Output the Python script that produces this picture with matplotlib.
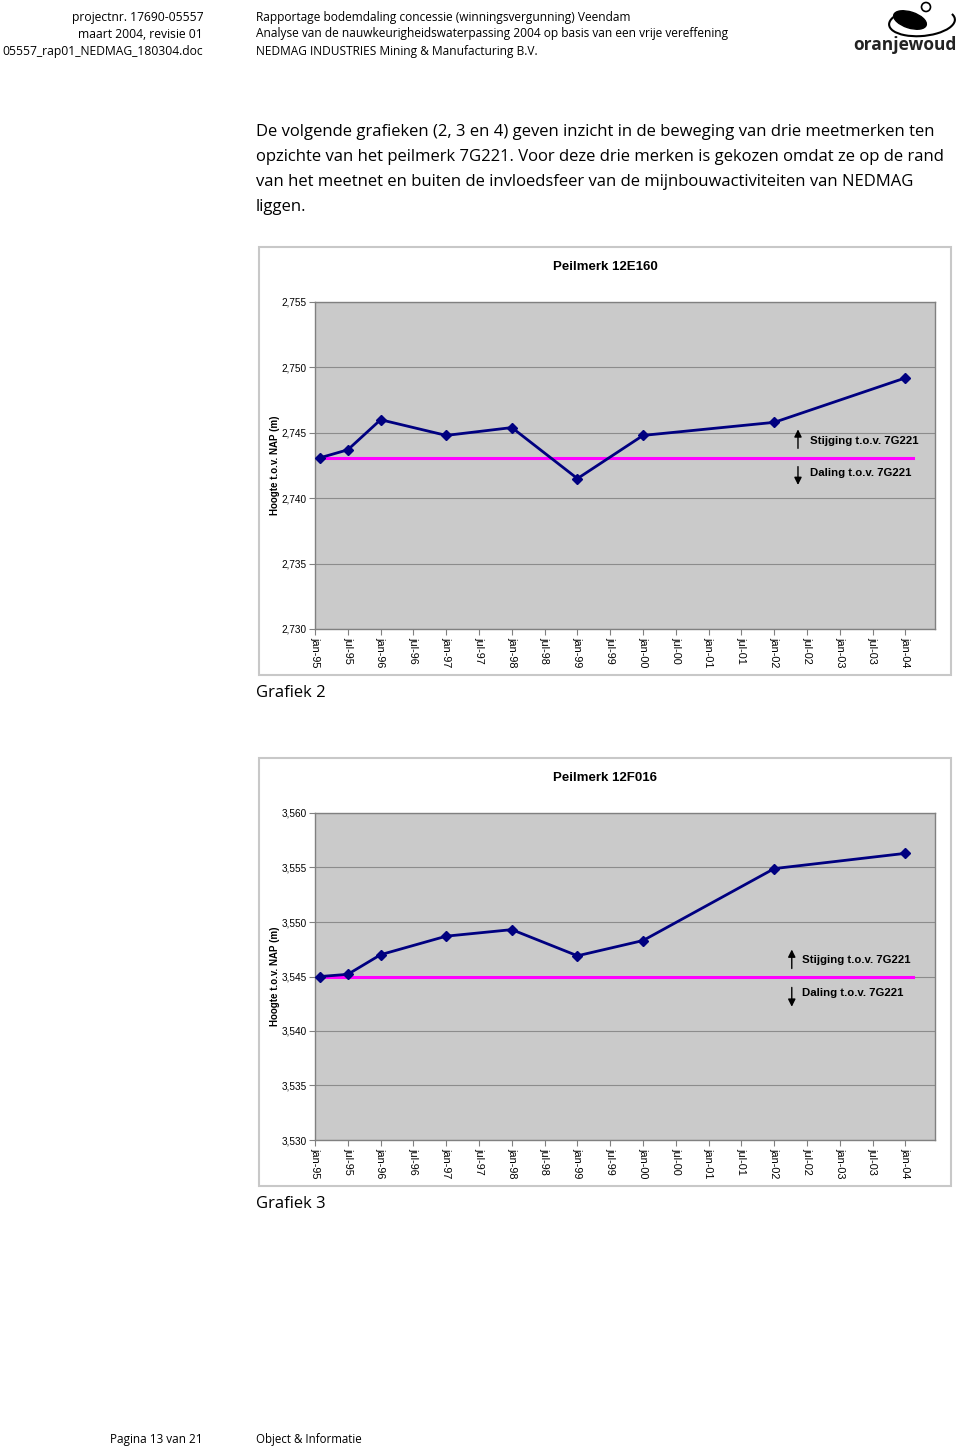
import matplotlib
matplotlib.use('Agg')
import matplotlib.pyplot as plt
from matplotlib.patches import Rectangle, Ellipse, Arc, Circle
from matplotlib.ticker import FuncFormatter

plt.rcParams['font.family'] = ['Liberation Sans', 'DejaVu Sans']

# gegevens (maanden na jan-95)
tick_labels = ['jan-95', 'jul-95', 'jan-96', 'jul-96', 'jan-97', 'jul-97', 'jan-98',
               'jul-98', 'jan-99', 'jul-99', 'jan-00', 'jul-00', 'jan-01', 'jul-01',
               'jan-02', 'jul-02', 'jan-03', 'jul-03', 'jan-04']
tick_months = [6 * i for i in range(len(tick_labels))]
meet_maanden = [1, 6, 12, 24, 36, 48, 60, 84, 108]

hoogte_12E160 = [2.7431, 2.7437, 2.7460, 2.7448, 2.7454, 2.7415, 2.7448, 2.7458, 2.7492]
ref_12E160 = 2.7431
yticks_12E160 = [2.730, 2.735, 2.740, 2.745, 2.750, 2.755]

hoogte_12F016 = [3.5450, 3.5452, 3.5470, 3.5487, 3.5493, 3.5469, 3.5483, 3.5549, 3.5563]
ref_12F016 = 3.5450
yticks_12F016 = [3.530, 3.535, 3.540, 3.545, 3.550, 3.555, 3.560]

W, H = 960, 1449
BODY = ['Open Sans', 'DejaVu Sans']

fig = plt.figure(figsize=(W / 100, H / 100), dpi=100)

# achtergrond-assen in pixels
bg = fig.add_axes([0, 0, 1, 1])
bg.set_xlim(0, W)
bg.set_ylim(H, 0)
bg.axis('off')


def axes_px(x0, y0, x1, y1):
    return fig.add_axes([x0 / W, 1 - y1 / H, (x1 - x0) / W, (y1 - y0) / H])


# koptekst
for y, t in zip([17, 34, 51], ['projectnr. 17690-05557', 'maart 2004, revisie 01',
                               '05557_rap01_NEDMAG_180304.doc']):
    bg.text(203, y, t, ha='right', va='center', fontsize=8.7, family=BODY)
for y, t in zip([17, 34, 51], ['Rapportage bodemdaling concessie (winningsvergunning) Veendam',
                               'Analyse van de nauwkeurigheidswaterpassing 2004 op basis van een vrije vereffening',
                               'NEDMAG INDUSTRIES Mining & Manufacturing B.V.']):
    bg.text(256, y, t, ha='left', va='center', fontsize=8.6, family=BODY)

# logo
bg.add_patch(Ellipse((910, 20), 34, 16, angle=18, color='black'))
bg.add_patch(Arc((922, 22), 66, 28, angle=-5, theta1=-10, theta2=195, color='black', lw=1.5))
bg.add_patch(Circle((926, 7), 4.5, fill=False, ec='black', lw=1.2))
bg.text(905, 45, 'oranjewoud', ha='center', va='center', fontsize=12.5, weight='bold',
        family=BODY, color='#222222')

# alinea
regels = ['De volgende grafieken (2, 3 en 4) geven inzicht in de beweging van drie meetmerken ten',
          'opzichte van het peilmerk 7G221. Voor deze drie merken is gekozen omdat ze op de rand',
          'van het meetnet en buiten de invloedsfeer van de mijnbouwactiviteiten van NEDMAG',
          'liggen.']
for i, t in enumerate(regels):
    bg.text(256, 132 + 25 * i, t, ha='left', va='center', fontsize=12, family=BODY)


def grafiek(top, titel, waarden, ref, yticks, onderschrift, pijl, tekst):
    frame_bot = top + 428
    bg.add_patch(Rectangle((259, top), 692, 428, fill=False, ec='#c8c8c8', lw=1.5))
    bg.text(605, top + 20, titel, ha='center', va='center', fontsize=9.5, weight='bold')
    p_top, p_bot = top + 55, top + 382
    bg.text(275, (p_top + p_bot) / 2, 'Hoogte t.o.v. NAP (m)', rotation=90,
            ha='center', va='center', fontsize=7, weight='bold')
    bg.text(256, frame_bot + 18, onderschrift, ha='left', va='center', fontsize=12, family=BODY)

    ax = axes_px(315, p_top, 935, p_bot)
    ax.set_facecolor('#cacaca')
    ax.plot([0, 109.3], [ref, ref], color='#ff00ff', lw=2.2, zorder=2)
    ax.plot(meet_maanden, waarden, color='#000080', lw=2, marker='D', ms=5.5, zorder=3)
    ax.set_xlim(0, 113.4)
    ax.set_ylim(yticks[0], yticks[-1])
    ax.set_yticks(yticks)
    ax.yaxis.set_major_formatter(FuncFormatter(lambda v, p: f'{v:.3f}'.replace('.', ',')))
    ax.set_xticks(tick_months)
    ax.set_xticklabels(tick_labels, rotation=-90)
    ax.tick_params(axis='both', direction='out', length=4, width=0.8, color='#808080',
                   pad=2)
    ax.tick_params(axis='y', labelsize=7.2)
    ax.tick_params(axis='x', labelsize=7.8)
    ax.grid(axis='y', color='#8c8c8c', lw=0.8)
    ax.set_axisbelow(True)
    for s in ax.spines.values():
        s.set_color('#808080')
        s.set_linewidth(1)

    ax_x, up0, up1, dn0, dn1 = pijl
    ax.annotate('', xy=(ax_x, up1), xytext=(ax_x, up0), xycoords='axes fraction',
                arrowprops=dict(arrowstyle='-|>', color='black', lw=1.0, mutation_scale=11))
    ax.annotate('', xy=(ax_x, dn1), xytext=(ax_x, dn0), xycoords='axes fraction',
                arrowprops=dict(arrowstyle='-|>', color='black', lw=1.0, mutation_scale=11))
    tx, ty_up, ty_dn = tekst
    ax.text(tx, ty_up, 'Stijging t.o.v. 7G221', transform=ax.transAxes, fontsize=8.2,
            weight='bold', va='center')
    ax.text(tx, ty_dn, 'Daling t.o.v. 7G221', transform=ax.transAxes, fontsize=8.2,
            weight='bold', va='center')
    return ax


grafiek(247, 'Peilmerk 12E160', hoogte_12E160, ref_12E160, yticks_12E160, 'Grafiek 2',
        (0.779, 0.544, 0.619, 0.505, 0.432), (0.798, 0.575, 0.477))
grafiek(758, 'Peilmerk 12F016', hoogte_12F016, ref_12F016, yticks_12F016, 'Grafiek 3',
        (0.769, 0.516, 0.591, 0.475, 0.399), (0.786, 0.550, 0.451))

# voettekst
bg.text(110, 1439, 'Pagina 13 van 21', ha='left', va='center', fontsize=8.5, family=BODY)
bg.text(256, 1439, 'Object & Informatie', ha='left', va='center', fontsize=8.3, family=BODY)

fig.savefig('out.png', dpi=100)
